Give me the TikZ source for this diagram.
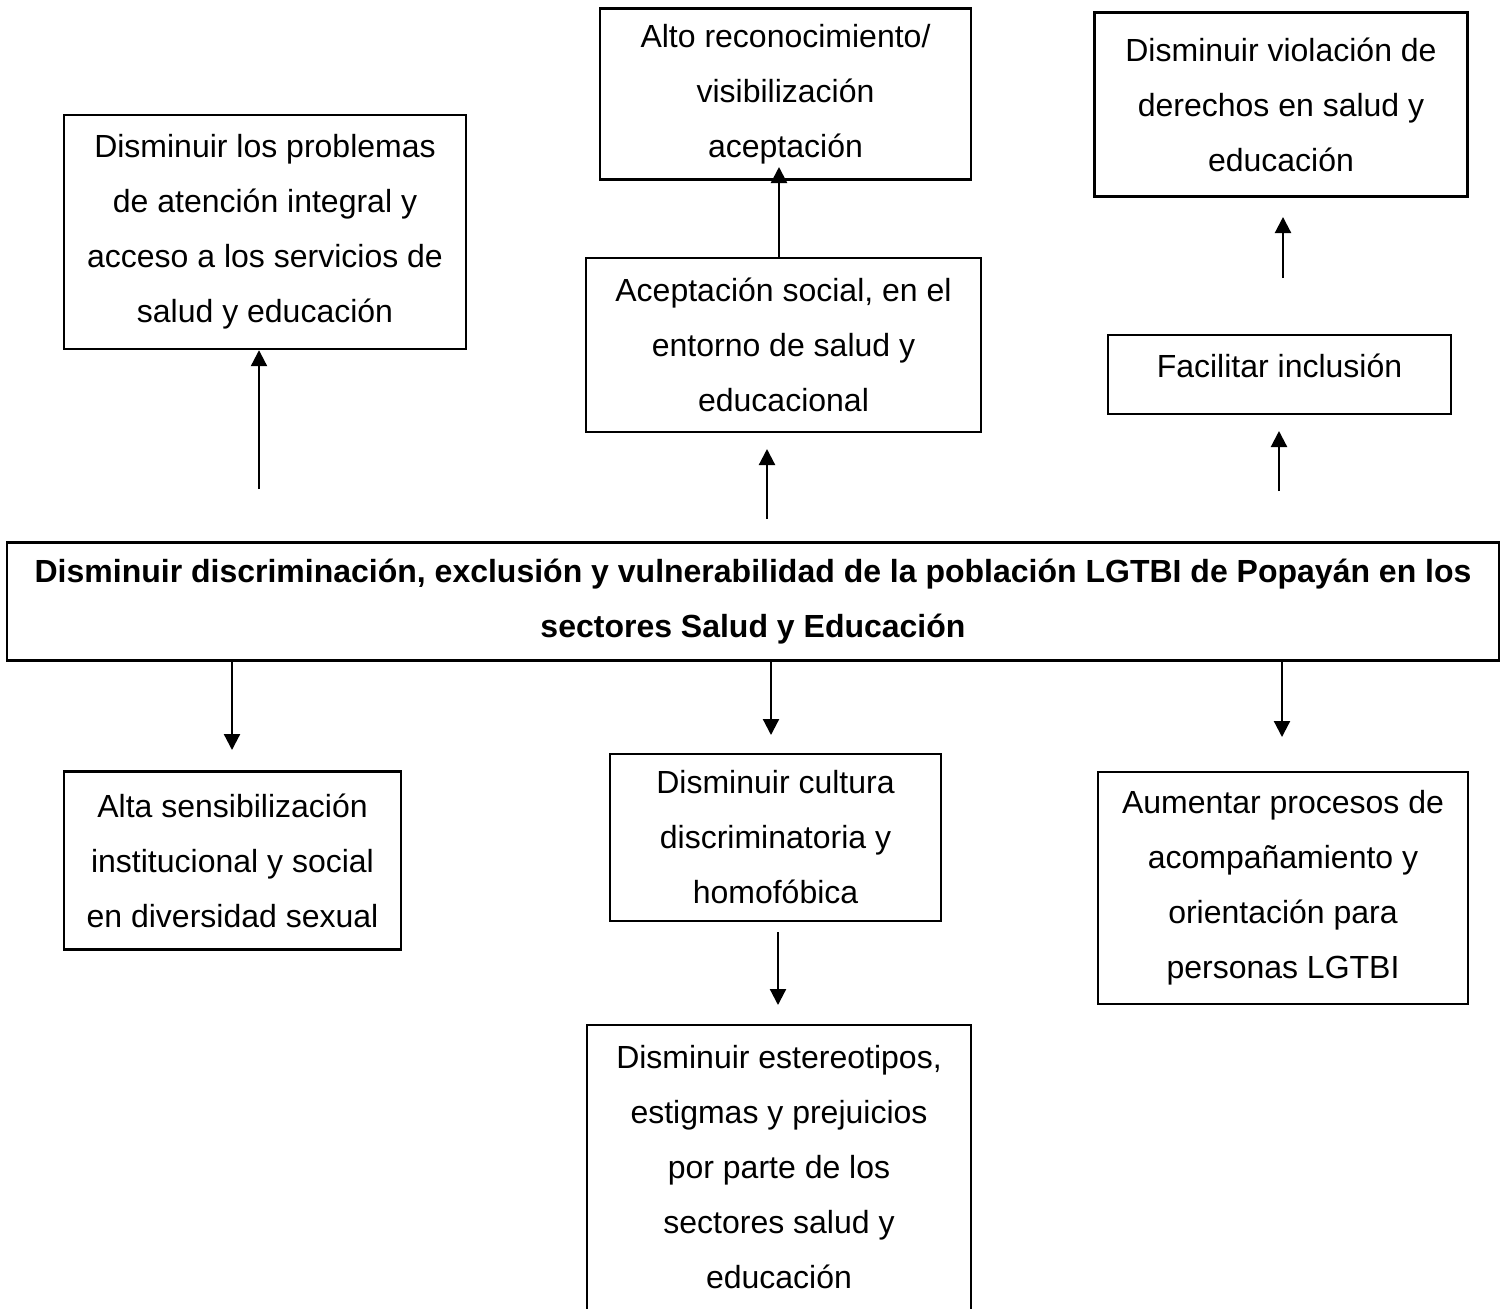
\documentclass[tikz,border=0pt]{standalone}
\usepackage{fontspec}
\setmainfont{Liberation Sans}
\usetikzlibrary{arrows.meta}

\begin{document}
\begin{tikzpicture}[x=0.5pt, y=-0.5pt,
    box/.style={draw, line width=1.2pt, align=center, inner sep=0pt,
      font=\fontsize{16}{27.5}\selectfont},
    arr/.style={line width=1.1pt, -{Triangle[width=8pt,length=8pt]}}]
  \clip (0,0) rectangle (1505,1308);
  \fill[white] (0,0) rectangle (1505,1308);
  \begin{scope}[every node/.style={box}]
    % effects
    \node (prob) [minimum width=201pt, minimum height=117pt] at (265,232)
      {Disminuir los problemas\\de atención integral y\\acceso a los servicios de\\salud y educación};
    \node (alto) [minimum width=185.5pt, minimum height=85.5pt] at (785.5,94)
      {Alto reconocimiento/\\visibilización\\aceptación};
    \node (viol) [minimum width=186.5pt, minimum height=92pt] at (1281,104.5)
      {Disminuir violación de\\derechos en salud y\\educación};
    \node (acep) [minimum width=197.5pt, minimum height=87pt] at (783.5,345)
      {Aceptación social, en el\\entorno de salud y\\educacional};
    \node (incl) [minimum width=171.5pt, text height=21pt, text depth=18.5pt] at (1279.5,374.5)
      {Facilitar inclusión};
    % central objective
    \node (main) [minimum width=746pt, minimum height=59pt, font=\fontsize{16}{27.5}\selectfont\bfseries] at (753,601.5)
      {Disminuir discriminación, exclusión y vulnerabilidad de la población LGTBI de Popayán en los\\sectores Salud y Educación};
    % means
    \node (sens) [minimum width=168.5pt, minimum height=89pt] at (232.5,860.5)
      {Alta sensibilización\\institucional y social\\en diversidad sexual};
    \node (cult) [minimum width=165.5pt, minimum height=83.5pt] at (775.5,837.5)
      {Disminuir cultura\\discriminatoria y\\homofóbica};
    \node (acom) [minimum width=185pt, minimum height=116pt] at (1283,888)
      {Aumentar procesos de\\acompañamiento y\\orientación para\\personas LGTBI};
    \node (este) [minimum width=192pt, minimum height=142.5pt] at (779,1167.5)
      {Disminuir estereotipos,\\estigmas y prejuicios\\por parte de los\\sectores salud y\\educación};
  \end{scope}
  % free ends of the arrows
  \coordinate (t1) at (259,489);
  \coordinate (t2) at (767,519);
  \coordinate (h2) at (767,449);
  \coordinate (h3) at (779,167);
  \coordinate (t4) at (1279,491);
  \coordinate (h4) at (1279,431);
  \coordinate (t5) at (1283,278);
  \coordinate (h5) at (1283,217);
  \coordinate (h6) at (232,750);
  \coordinate (h7) at (771,735);
  \coordinate (h8) at (1282,737);
  \coordinate (t9) at (778,932);
  \coordinate (h9) at (778,1005);
  \draw[arr] (t1) -- (t1 |- prob.south);
  \draw[arr] (t2) -- (h2);
  \draw[arr] (h3 |- acep.north) -- (h3);
  \draw[arr] (t4) -- (h4);
  \draw[arr] (t5) -- (h5);
  \draw[arr] (h6 |- main.south) -- (h6);
  \draw[arr] (h7 |- main.south) -- (h7);
  \draw[arr] (h8 |- main.south) -- (h8);
  \draw[arr] (t9) -- (h9);
\end{tikzpicture}
\end{document}
